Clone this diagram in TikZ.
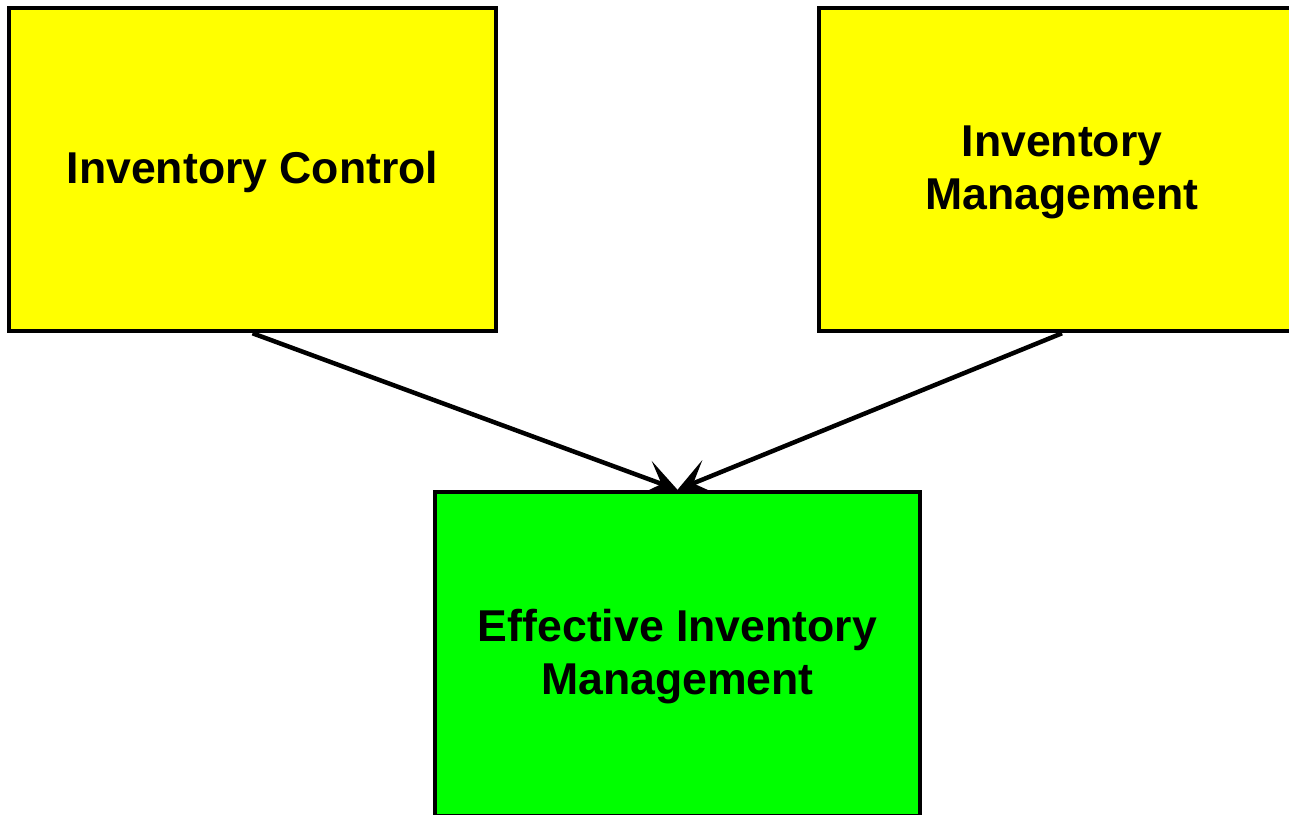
\documentclass[tikz,border=0pt]{standalone}
\usepackage{fontspec}
\setmainfont{Liberation Sans}
\usetikzlibrary{arrows.meta,backgrounds}
\definecolor{boxyellow}{RGB}{255,255,0}
\definecolor{boxgreen}{RGB}{0,255,0}
% centred lines, padded on top so they sit slightly below the box centre
\newcommand{\boxtext}[1]{\raisebox{0pt}[\dimexpr\height+6pt\relax]{\begin{tabular}{@{}c@{}}#1\end{tabular}}}
\tikzset{
  box/.style={draw=black, line width=4.5pt, inner sep=0pt, align=center,
    font=\fontsize{44.6}{53}\selectfont\bfseries},
  src/.style={box, fill=boxyellow},
  goal/.style={box, fill=boxgreen},
  link/.style={draw=black, line width=4.5pt,
    -{Stealth[length=34pt,width=36pt,inset=17pt]}}
}
\begin{document}
\begin{tikzpicture}[x=1pt,y=-1pt]
\useasboundingbox (0,0) rectangle (1289,814);
\clip (0,0) rectangle (1289,814);
\node[src, minimum width=487pt, minimum height=323pt] (ctrl) at (252.5,169.5) {\boxtext{Inventory Control}};
\node[src, minimum width=486pt, minimum height=323pt] (mgmt) at (1062,169.5) {\boxtext{Inventory\\Management}};
\node[goal, minimum width=485pt, minimum height=324pt] (eff) at (677.5,654) {\boxtext{Effective Inventory\\Management}};
\begin{scope}[on background layer]
  \draw[link] (ctrl.south) -- (eff.north);
  \draw[link] (mgmt.south) -- (eff.north);
\end{scope}
\end{tikzpicture}
\end{document}
